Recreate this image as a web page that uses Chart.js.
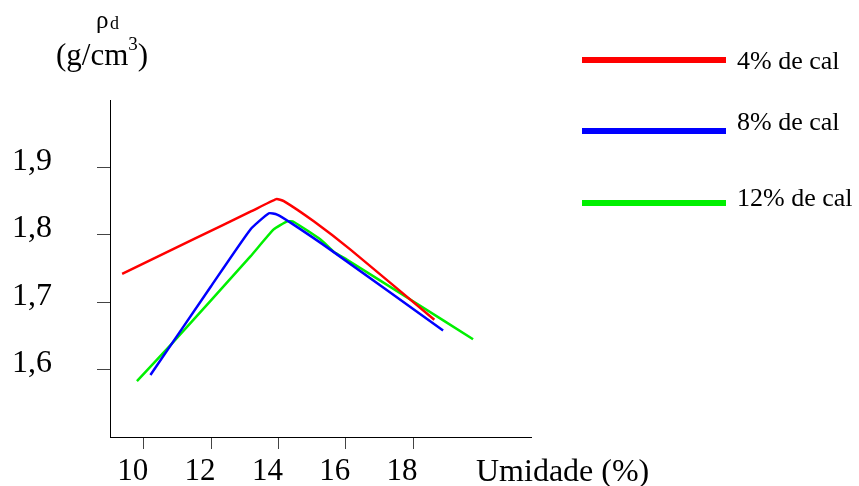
<!DOCTYPE html>
<html>
<head>
<meta charset="utf-8">
<script src="https://cdn.jsdelivr.net/npm/chart.js@4/dist/chart.umd.min.js"></script>
<style>
  html, body { margin: 0; padding: 0; background: #fff; }
  #wrap { width: 859px; height: 486px; }
</style>
</head>
<body>
<div id="wrap"><canvas id="densityChart"></canvas></div>
<script>
// Curvas de compactação (umidade x massa específica seca)
const seriesLabels = ['4% de cal', '8% de cal', '12% de cal'];
const seriesColors = ['#ff0000', '#0000ff', '#00f000'];

const umidade4 = [9.36, 11.50, 13.20, 13.94, 14.16, 15.05, 16.14, 18.63];
const rho4 = [1.742, 1.794, 1.835, 1.853, 1.850, 1.820, 1.778, 1.674];

const umidade8 = [10.20, 11.99, 13.17, 13.72, 13.96, 14.36, 15.54, 18.89];
const rho8 = [1.592, 1.723, 1.808, 1.832, 1.830, 1.818, 1.778, 1.658];

const umidade12 = [9.80, 10.81, 13.17, 13.86, 14.26, 14.46, 15.25, 15.64, 16.04, 18.01, 19.78];
const rho12 = [1.583, 1.637, 1.768, 1.808, 1.820, 1.819, 1.793, 1.775, 1.763, 1.701, 1.645];

const xTicks = [10, 12, 14, 16, 18];
const yTicks = [1.6, 1.7, 1.8, 1.9];

const serif = "'Liberation Serif', 'Times New Roman', serif";

function toPoints(xs, ys) {
    return xs.map((x, i) => ({ x: x, y: ys[i] }));
}

// Rótulos extras: título do eixo y, "Umidade (%)" e legenda à direita
const extraText = {
    id: 'extraText',
    afterDraw(chart) {
        const ctx = chart.ctx;
        ctx.save();
        ctx.fillStyle = '#000';
        ctx.textBaseline = 'alphabetic';
        ctx.textAlign = 'left';

        ctx.font = '25px ' + serif;
        ctx.fillText('ρ', 96, 28);
        ctx.font = '18px ' + serif;
        ctx.fillText('d', 110, 29);

        ctx.font = '31px ' + serif;
        ctx.fillText('(g/cm', 56, 65);
        let w = ctx.measureText('(g/cm').width;
        ctx.font = '19px ' + serif;
        ctx.fillText('3', 56 + w, 50);
        let w3 = ctx.measureText('3').width;
        ctx.font = '31px ' + serif;
        ctx.fillText(')', 56 + w + w3, 65);

        ctx.font = '32px ' + serif;
        ctx.fillText('Umidade (%)', 476, 481);

        const lineY = [60, 131, 203];
        const textY = [69, 130, 206];
        seriesLabels.forEach((label, i) => {
            ctx.strokeStyle = seriesColors[i];
            ctx.lineWidth = 6;
            ctx.beginPath();
            ctx.moveTo(582, lineY[i]);
            ctx.lineTo(726, lineY[i]);
            ctx.stroke();
            ctx.font = '26px ' + serif;
            ctx.fillText(label, 737, textY[i]);
        });
        ctx.restore();
    }
};

const ctx = document.getElementById('densityChart');

new Chart(ctx, {
    type: 'scatter',
    data: {
        datasets: [
            { label: seriesLabels[0], data: toPoints(umidade4, rho4) },
            { label: seriesLabels[1], data: toPoints(umidade8, rho8) },
            { label: seriesLabels[2], data: toPoints(umidade12, rho12) }
        ].map((ds, i) => Object.assign(ds, {
            showLine: true,
            borderColor: seriesColors[i],
            backgroundColor: seriesColors[i],
            borderWidth: 2.5,
            pointRadius: 0,
            tension: 0.15
        }))
    },
    options: {
        responsive: true,
        maintainAspectRatio: false,
        animation: false,
        layout: {
            padding: { top: 100, right: 328, left: 0, bottom: 0 }
        },
        scales: {
            x: {
                type: 'linear',
                min: 9,
                max: 21.5,
                afterBuildTicks: (axis) => { axis.ticks = xTicks.map(v => ({ value: v })); },
                afterFit: (axis) => {
                    axis.height = 49;
                    axis.paddingLeft = 0;
                    axis.paddingRight = 0;
                },
                border: { display: true, color: '#000', width: 1 },
                grid: { drawOnChartArea: false, drawTicks: true, tickLength: 12, color: '#444' },
                ticks: {
                    color: '#000',
                    padding: 4,
                    labelOffset: -11,
                    maxRotation: 0,
                    autoSkip: false,
                    font: { family: serif, size: 31 },
                    callback: (v) => String(v)
                }
            },
            y: {
                type: 'linear',
                min: 1.5,
                max: 2.0,
                afterBuildTicks: (axis) => { axis.ticks = yTicks.map(v => ({ value: v })); },
                afterFit: (axis) => {
                    axis.width = 110;
                    axis.paddingTop = 0;
                    axis.paddingBottom = 0;
                },
                border: { display: true, color: '#000', width: 1 },
                grid: { drawOnChartArea: false, drawTicks: true, tickLength: 13, color: '#444' },
                ticks: {
                    color: '#000',
                    padding: 45,
                    labelOffset: -6,
                    autoSkip: false,
                    font: { family: serif, size: 32 },
                    callback: (v) => v.toFixed(1).replace('.', ',')
                }
            }
        },
        plugins: {
            legend: { display: false },
            tooltip: { enabled: false }
        }
    },
    plugins: [extraText]
});
</script>
</body>
</html>
